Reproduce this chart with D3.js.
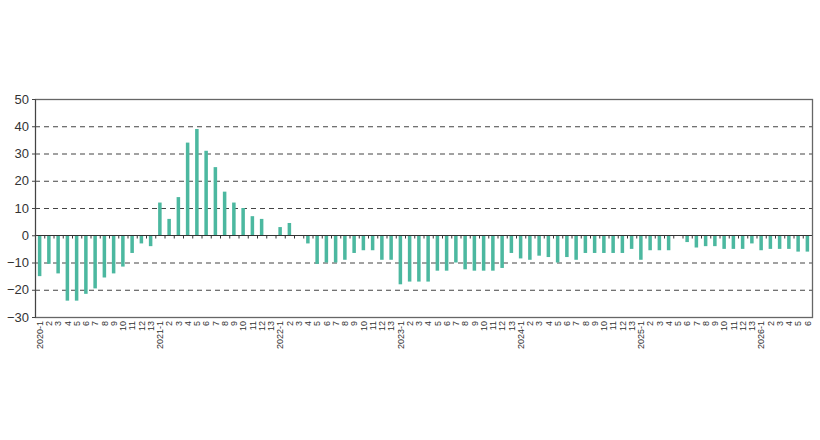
<!DOCTYPE html>
<html>
<head>
<meta charset="utf-8">
<script src="https://cdn.jsdelivr.net/npm/d3@7"></script>
<style>
  body { margin: 0; background: #fff; }
  svg text { font-family: "Liberation Sans", Arial, sans-serif; }
</style>
</head>
<body>
<div id="chart"></div>
<script>
// periods per year (13 four-week periods), last year partial
const years = [2020, 2021, 2022, 2023, 2024, 2025, 2026];
const periodsPerYear = [13, 13, 13, 13, 13, 13, 6];

const values2020 = [-15, -10.5, -14, -24, -24, -21.5, -19.5, -15.5, -14, -11.5, -6.5, -3, -4];
const values2021 = [12, 6, 14, 34, 39, 31, 25, 16, 12, 10, 7, 6, 0];
const values2022 = [3, 4.5, 0, -3, -10.5, -10, -10, -9, -6.5, -5.5, -5.5, -9, -9];
const values2023 = [-18, -17, -17, -17, -13, -13, -10, -12.5, -13, -13, -13, -12, -6.5];
const values2024 = [-8.5, -9, -7.5, -8, -10, -8, -9, -6.5, -6.5, -6.5, -6.5, -6.5, -5];
const values2025 = [-9, -5.5, -5.5, -5.5, 0, -2.5, -4.5, -4, -4, -5, -5, -5, -3];
const values2026 = [-5.5, -5, -5, -5, -6, -6];

const yTicks = [-30, -20, -10, 0, 10, 20, 30, 40, 50];

const CONFIG = {
  width: 820,
  height: 440,
  margin: { top: 99, right: 8, bottom: 123, left: 35 },
  barColor: "#4cb8a0",
  gridColor: "#444",
  frameColor: "#666"
};

const allValues = [values2020, values2021, values2022, values2023, values2024, values2025, values2026];
const data = [];
years.forEach((yr, yi) => {
  for (let p = 1; p <= periodsPerYear[yi]; p++) {
    data.push({
      key: `${yr}-${p}`,
      label: p === 1 ? `${yr}-1` : String(p),
      value: allValues[yi][p - 1]
    });
  }
});

const { width, height, margin } = CONFIG;
const innerW = width - margin.left - margin.right;
const innerH = height - margin.top - margin.bottom;

const x = d3.scaleBand()
  .domain(data.map(d => d.key))
  .range([0, innerW])
  .paddingInner(0.62)
  .paddingOuter(0.31);

const y = d3.scaleLinear()
  .domain([-30, 50])
  .range([innerH, 0]);

const svg = d3.select("#chart").append("svg")
  .attr("width", width)
  .attr("height", height);

const g = svg.append("g")
  .attr("transform", `translate(${margin.left},${margin.top})`);

// dashed gridlines
g.append("g")
  .selectAll("line")
  .data(yTicks.filter(t => t !== 0 && t !== -30 && t !== 50))
  .join("line")
  .attr("x1", 0)
  .attr("x2", innerW)
  .attr("y1", d => y(d) + 0.5)
  .attr("y2", d => y(d) + 0.5)
  .attr("stroke", CONFIG.gridColor)
  .attr("stroke-width", 1.2)
  .attr("stroke-dasharray", "5,4");

// bars
g.append("g")
  .selectAll("rect")
  .data(data)
  .join("rect")
  .attr("x", d => x(d.key))
  .attr("width", x.bandwidth())
  .attr("y", d => y(Math.max(0, d.value)))
  .attr("height", d => Math.abs(y(d.value) - y(0)))
  .attr("fill", CONFIG.barColor);

// zero line with category ticks
const step = x.step();
const zeroY = Math.round(y(0)) + 0.5;
g.append("line")
  .attr("x1", 0).attr("x2", innerW)
  .attr("y1", zeroY).attr("y2", zeroY)
  .attr("stroke", "#333")
  .attr("stroke-width", 1.2);
g.append("g")
  .selectAll("line")
  .data(d3.range(data.length + 1))
  .join("line")
  .attr("x1", i => x.range()[0] + i * step + 0.5)
  .attr("x2", i => x.range()[0] + i * step + 0.5)
  .attr("y1", zeroY)
  .attr("y2", zeroY + 3)
  .attr("stroke", "#333");

// frame
g.append("rect")
  .attr("x", 0.5).attr("y", 0.5)
  .attr("width", innerW).attr("height", innerH)
  .attr("fill", "none")
  .attr("stroke", CONFIG.frameColor)
  .attr("stroke-width", 1.3);

// y axis
const yAxis = g.append("g")
  .call(d3.axisLeft(y).tickValues(yTicks).tickSize(3).tickPadding(3));
yAxis.select(".domain").attr("stroke", "#444");
yAxis.selectAll(".tick line").attr("stroke", "#444");
yAxis.selectAll("text")
  .attr("font-size", 13)
  .attr("fill", "#333")
  .style("font-family", "Liberation Sans, Arial, sans-serif");

// x labels, rotated
const labelMap = new Map(data.map(d => [d.key, d.label]));
const xAxis = g.append("g")
  .attr("transform", `translate(0,${innerH})`)
  .call(d3.axisBottom(x).tickSize(0).tickFormat(k => labelMap.get(k)));
xAxis.select(".domain").remove();
xAxis.selectAll("text")
  .attr("transform", "rotate(-90)")
  .attr("text-anchor", "end")
  .attr("x", -4)
  .attr("y", 0)
  .attr("dy", "0.35em")
  .attr("font-size", 9)
  .attr("fill", "#333")
  .style("font-family", "Liberation Sans, Arial, sans-serif");
</script>
</body>
</html>
